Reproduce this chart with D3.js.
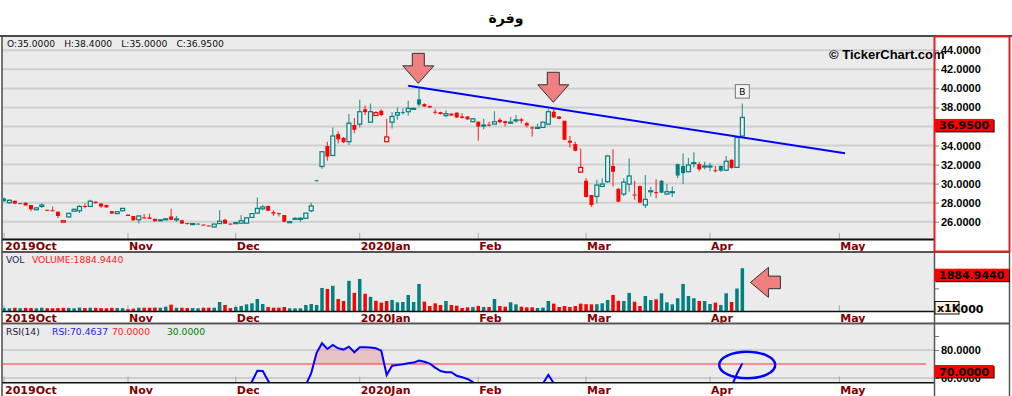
<!DOCTYPE html>
<meta charset="utf-8">
<title>وفرة</title>
<style>
    body { margin: 0; background: #fff; overflow: hidden; }
    svg { display: block; font-family: "DejaVu Sans", sans-serif; }
    .xlab { font-weight: bold; font-size: 11px; fill: #800000; }
    .ylab { font-weight: bold; font-size: 11px; fill: #000; }
    .legend { font-size: 9.2px; }
</style>
<body>
<svg width="1012" height="396"></svg>
<script src="https://d3js.org/d3.v7.min.js"></script>
<script>
// daily bars, 2019-10-01 .. 2020-04-09 (Sun-Thu sessions)
const opens = [
    28.45, 28.00, 28.20, 27.95, 28.00, 27.75, 27.25, 27.60, 27.25, 27.20,
    27.05, 25.95, 26.50, 27.10, 27.15, 27.65, 27.60, 28.10, 27.90, 27.75,
    27.10, 26.85, 27.15, 26.75, 26.60, 26.20, 26.45, 26.45, 26.30, 26.15,
    26.25, 26.55, 26.25, 26.15, 25.85, 25.75, 25.80, 25.70, 25.60, 25.45,
    25.80, 26.20, 25.80, 25.85, 25.85, 25.85, 26.45, 26.90, 27.35, 27.65,
    27.00, 26.90, 26.70, 25.95, 26.30, 26.30, 26.35, 27.15, 30.35, 31.80,
    33.95, 32.95, 35.20, 34.80, 34.40, 36.15, 36.25, 37.80, 36.45, 37.15,
    37.65, 34.40, 36.45, 37.20, 37.50, 37.55, 37.85, 38.85, 38.35, 38.15,
    37.55, 37.50, 37.15, 37.35, 37.45, 37.05, 37.05, 36.50, 36.50, 36.10,
    36.20, 36.25, 36.70, 36.55, 36.40, 36.60, 36.75, 36.35, 35.90, 35.85,
    35.90, 36.25, 37.55, 37.05, 36.60, 34.50, 34.15, 31.20, 30.30, 28.80,
    28.65, 29.70, 30.20, 31.85, 29.45, 28.90, 29.95, 28.85, 29.75, 27.75,
    29.15, 29.10, 30.30, 28.90, 29.10, 32.05, 31.85, 31.25, 32.15, 32.05,
    31.80, 31.80, 31.40, 31.85, 31.40, 32.50, 31.70, 35.00
];
const highs = [
    28.55, 28.35, 28.20, 28.00, 28.00, 27.75, 27.50, 27.95, 27.25, 27.60,
    27.05, 26.10, 26.90, 27.35, 27.75, 27.90, 28.30, 28.15, 27.95, 27.80,
    27.10, 27.05, 27.45, 26.75, 26.60, 26.65, 26.80, 26.85, 26.30, 26.20,
    26.40, 27.35, 26.60, 26.20, 25.85, 25.85, 25.85, 25.70, 25.60, 25.75,
    27.20, 26.30, 25.80, 25.90, 26.70, 26.50, 26.90, 28.55, 27.75, 27.70,
    27.20, 26.95, 26.70, 26.10, 26.50, 26.50, 26.90, 28.00, 30.40, 33.40,
    34.40, 35.90, 35.50, 34.90, 37.30, 36.90, 38.80, 38.20, 38.40, 37.60,
    37.80, 36.80, 37.50, 38.00, 37.90, 38.70, 38.00, 40.00, 38.45, 38.20,
    37.80, 37.55, 37.70, 37.40, 37.50, 37.40, 37.10, 36.90, 36.55, 36.80,
    36.50, 37.60, 36.90, 36.60, 37.00, 37.20, 36.90, 36.50, 36.00, 36.30,
    36.50, 37.80, 37.95, 37.10, 36.60, 35.00, 34.40, 33.70, 30.55, 28.80,
    30.40, 30.55, 33.00, 33.60, 29.50, 30.55, 32.65, 30.30, 29.80, 30.90,
    29.65, 30.45, 30.40, 29.95, 29.70, 32.10, 33.20, 32.70, 33.30, 32.30,
    32.30, 32.20, 31.85, 31.90, 32.90, 32.55, 34.90, 38.40
];
const lows = [
    28.10, 27.90, 27.85, 27.90, 27.70, 27.10, 27.20, 27.45, 27.15, 27.10,
    26.40, 25.95, 26.45, 27.10, 26.90, 27.40, 27.55, 27.90, 27.45, 27.50,
    26.85, 26.85, 27.10, 26.60, 26.10, 25.80, 26.30, 26.30, 26.00, 26.10,
    26.20, 26.15, 26.00, 25.80, 25.70, 25.70, 25.75, 25.60, 25.55, 25.40,
    25.75, 25.75, 25.70, 25.80, 25.80, 25.80, 26.40, 26.85, 27.20, 27.15,
    26.60, 26.55, 25.95, 25.90, 26.20, 26.00, 26.30, 27.00, 30.30, 31.55,
    32.40, 32.90, 34.20, 34.25, 34.05, 35.30, 35.90, 37.20, 36.40, 37.10,
    37.10, 34.40, 35.80, 36.70, 37.25, 37.15, 37.80, 38.10, 38.05, 37.95,
    37.25, 37.25, 36.95, 37.10, 36.90, 36.85, 36.70, 36.45, 34.50, 35.70,
    36.00, 36.20, 36.30, 36.00, 36.30, 36.40, 36.30, 35.90, 34.95, 35.80,
    35.85, 36.20, 36.90, 36.75, 34.55, 33.80, 33.40, 31.20, 28.55, 27.55,
    27.95, 29.65, 30.10, 29.70, 28.05, 28.70, 29.15, 28.30, 27.95, 27.45,
    28.65, 28.45, 29.00, 28.85, 28.60, 30.60, 29.95, 31.20, 31.70, 31.30,
    31.50, 31.30, 31.20, 31.25, 31.35, 31.55, 31.65, 35.00
];
const closes = [
    28.15, 28.25, 27.90, 27.95, 27.70, 27.30, 27.45, 27.75, 27.20, 27.15,
    26.60, 26.10, 26.88, 27.30, 27.60, 27.55, 28.15, 27.95, 27.60, 27.50,
    26.85, 27.05, 27.40, 26.60, 26.15, 26.60, 26.35, 26.30, 26.05, 26.20,
    26.30, 26.20, 26.30, 25.80, 25.75, 25.80, 25.80, 25.60, 25.55, 25.75,
    26.05, 25.80, 25.70, 25.90, 26.10, 26.40, 26.85, 27.40, 27.55, 27.15,
    26.85, 26.80, 26.00, 26.00, 26.35, 26.35, 26.90, 27.65, 30.35, 33.35,
    32.85, 35.00, 34.65, 34.35, 36.35, 35.65, 37.55, 37.50, 37.55, 37.45,
    37.20, 34.90, 37.05, 37.45, 37.50, 37.90, 37.90, 38.30, 38.10, 38.00,
    37.50, 37.30, 37.35, 37.15, 36.95, 36.90, 36.75, 36.80, 36.00, 36.15,
    36.10, 36.50, 36.45, 36.35, 36.45, 36.70, 36.60, 36.10, 35.80, 35.90,
    36.45, 37.55, 36.95, 36.80, 34.60, 34.30, 33.45, 31.70, 28.60, 27.75,
    29.85, 29.95, 32.90, 31.25, 28.10, 30.15, 30.80, 28.75, 28.00, 28.35,
    29.25, 29.00, 29.05, 29.15, 29.15, 30.85, 31.10, 31.95, 32.20, 31.50,
    31.85, 31.85, 31.30, 31.35, 32.35, 31.65, 34.85, 36.95
];
// volume in thousands
const volumes = [
    130, 120, 140, 125, 135, 130, 120, 145, 125, 120,
    130, 140, 135, 120, 150, 130, 145, 140, 125, 120,
    140, 130, 125, 80, 105, 145, 145, 145, 150, 145,
    190, 280, 145, 145, 130, 130, 120, 145, 145, 145,
    397, 265, 130, 177, 221, 294, 338, 530, 309, 177,
    147, 147, 177, 118, 118, 118, 265, 309, 265, 1015,
    971, 1110, 530, 441, 1330, 800, 1413, 758, 625, 450,
    368, 441, 486, 382, 397, 706, 397, 1192, 412, 220,
    338, 265, 441, 265, 235, 132, 162, 177, 220, 177,
    177, 530, 220, 191, 382, 294, 191, 162, 162, 132,
    147, 441, 324, 177, 220, 177, 220, 324, 300, 294,
    300, 340, 486, 706, 450, 441, 800, 410, 220, 660,
    486, 515, 780, 382, 294, 560, 1192, 660, 560, 441,
    441, 309, 368, 265, 780, 397, 990, 1884.944
];
const rsi = [
    45, 47, 42, 43, 40, 35, 38, 42, 37, 36,
    30, 28, 38, 45, 48, 47, 55, 50, 46, 44,
    38, 42, 47, 40, 35, 42, 38, 37, 34, 36,
    38, 36, 38, 33, 32, 33, 33, 31, 30, 36,
    42, 37, 35, 38, 42, 48, 57.5, 65.2, 65, 58,
    52, 51, 43, 43, 47, 47, 55, 63.5, 78, 84.8,
    80.7, 83.6, 81.2, 80.3, 82.4, 78.4, 81.9, 81.9, 81.8, 81.2,
    79.5, 62.1, 68.8, 69.3, 69.8, 70.5, 71, 72.4, 71.6, 70.3,
    67.4, 65, 64.1, 64.1, 61.6, 60.5, 59.3, 57.1, 52, 53,
    52.5, 54.5, 54, 53, 54, 55.5, 54.5, 52, 50, 51,
    56, 62.3, 56.3, 55, 43, 41, 38, 33, 27, 25,
    34, 35, 45, 42, 35, 40, 43, 37, 35, 37,
    40, 39, 39.5, 40, 40, 46, 47, 49, 50, 49,
    50, 50, 48.5, 51, 56, 54, 63, 70.4637
];
const monthLabels = ["2019Oct", "Nov", "Dec", "2020Jan", "Feb", "Mar", "Apr", "May"];
const monthBars = [0, 23, 43, 66, 88, 108, 131, 155];
const priceTicks = [26, 28, 30, 32, 34, 36, 38, 40, 42, 44];
const rsiGrid = [60, 80];
const rsiLevels = [70, 30];
// hand drawn annotations: [bar index, value]
const trendline = [[75, 40.28], [156.05, 33.18]];
const downArrows = [[76.87, 40.53], [101.92, 38.54]];
const volArrow = [138.5, 1260];
const rsiCircle = [137.9, 69.3];

const svg = d3.select("svg");
const plotL = 3, plotR = 934, axisR = 1009.5;
const mainP = {top: 37, bottom: 239};
const volP = {top: 253, bottom: 311};
const rsiP = {top: 325, bottom: 382.5};

const x = d3.scaleLinear().domain([0, 155]).range([4.05, 839.35]);
const yP = d3.scaleLinear().domain([26, 44]).range([221.7, 50.3]);
const yV = d3.scaleLinear().domain([0, 1000]).range([311, 288.3]);
const yR = d3.scaleLinear().domain([60, 80]).range([378, 350]);

const fmt = d3.format(".4f");
const TEAL = "#008080", RED = "#ff0000", BG = "#ebebeb", GRID = "#cfcfcf";
const idx = d3.range(closes.length);
const last = closes.length - 1;
const isUp = i => i === 0 || closes[i] >= closes[i - 1];
const col = i => isUp(i) ? TEAL : RED;

// title
svg.append("text").attr("x", 506).attr("y", 23).attr("text-anchor", "middle")
    .attr("font-weight", "bold").attr("font-size", 14).text("وفرة");

// panel backgrounds + clips
[mainP, volP, rsiP].forEach((p, k) => {
    svg.append("rect").attr("x", plotL).attr("y", p.top)
        .attr("width", plotR - plotL).attr("height", p.bottom - p.top).attr("fill", BG);
    svg.append("clipPath").attr("id", "clip" + k).append("rect")
        .attr("x", plotL).attr("y", p.top).attr("width", plotR - plotL).attr("height", p.bottom - p.top);
});

// gridlines
svg.append("g").selectAll("line").data(priceTicks).join("line")
    .attr("x1", plotL).attr("x2", plotR).attr("y1", d => yP(d)).attr("y2", d => yP(d))
    .attr("stroke", GRID).attr("stroke-width", 2);
svg.append("g").selectAll("line").data(rsiGrid).join("line")
    .attr("x1", plotL).attr("x2", plotR).attr("y1", d => yR(d)).attr("y2", d => yR(d))
    .attr("stroke", GRID).attr("stroke-width", 2);

// month ticks at the bottom of each panel
[mainP, volP, rsiP].forEach(p => {
    svg.append("g").selectAll("line").data(monthBars).join("line")
        .attr("x1", d => x(d)).attr("x2", d => x(d))
        .attr("y1", p.bottom - 6).attr("y2", p.bottom)
        .attr("stroke", "#aaa").attr("stroke-width", 1);
});

// candles
const candles = svg.append("g").attr("clip-path", "url(#clip0)");
candles.selectAll("line").data(idx).join("line")
    .attr("x1", i => x(i)).attr("x2", i => x(i))
    .attr("y1", i => yP(highs[i])).attr("y2", i => yP(lows[i]))
    .attr("stroke", col).attr("stroke-opacity", 0.75).attr("stroke-width", 1.2);
candles.selectAll("rect").data(idx).join("rect")
    .attr("x", i => x(i) - 2)
    .attr("width", 4)
    .attr("y", i => yP(Math.max(opens[i], closes[i])))
    .attr("height", i => Math.max(1, yP(Math.min(opens[i], closes[i])) - yP(Math.max(opens[i], closes[i]))))
    .attr("fill", i => closes[i] > opens[i] ? BG : col(i))
    .attr("stroke", i => closes[i] > opens[i] ? col(i) : "none")
    .attr("stroke-width", 1.2);

// trendline
svg.append("line").attr("clip-path", "url(#clip0)")
    .attr("x1", x(trendline[0][0])).attr("y1", yP(trendline[0][1]))
    .attr("x2", x(trendline[1][0])).attr("y2", yP(trendline[1][1]))
    .attr("stroke", "#0000ff").attr("stroke-width", 2);

// down arrows
downArrows.forEach(([i, v]) => {
    const tx = x(i), ty = yP(v);
    const pts = [[tx, ty], [tx - 15.5, ty - 17.5], [tx - 6, ty - 17.5], [tx - 6, ty - 30],
        [tx + 6, ty - 30], [tx + 6, ty - 17.5], [tx + 15.5, ty - 17.5]];
    svg.append("polygon").attr("points", pts.join(" "))
        .attr("fill", "#f08080").attr("stroke", "#333").attr("stroke-width", 1);
});

// "B" marker over the last bar
const bx = x(last), by = yP(highs[last]) - 5;
svg.append("rect").attr("x", bx - 7).attr("y", by - 14).attr("width", 14).attr("height", 13.5)
    .attr("fill", "#f4f4f4").attr("stroke", "#777");
svg.append("text").attr("x", bx).attr("y", by - 3.5).attr("text-anchor", "middle")
    .attr("font-size", 9).text("B");

// copyright
svg.append("text").attr("x", 829).attr("y", 59)
    .attr("font-family", "Liberation Sans, sans-serif").attr("font-weight", "bold").attr("font-size", 13)
    .text("© TickerChart.com");

// OHLC legend
const ohlc = [["O", opens[last]], ["H", highs[last]], ["L", lows[last]], ["C", closes[last]]];
let lx = 7;
ohlc.forEach(([k, v]) => {
    const t = svg.append("text").attr("class", "legend").attr("x", lx).attr("y", 47)
        .attr("fill", "#111").text(k + ":" + fmt(v));
    lx += t.node().getComputedTextLength() + 9;
});

// volume bars
svg.append("g").attr("clip-path", "url(#clip1)")
    .selectAll("rect").data(idx).join("rect")
    .attr("x", i => x(i) - 1.75).attr("width", 3.5)
    .attr("y", i => yV(volumes[i])).attr("height", i => yV(0) - yV(volumes[i]))
    .attr("fill", col);
svg.append("text").attr("class", "legend").attr("x", 6).attr("y", 263).attr("fill", "#202060").text("VOL");
svg.append("text").attr("class", "legend").attr("x", 32).attr("y", 263).attr("fill", "#ff2020")
    .text("VOLUME:" + fmt(volumes[last]));

// volume arrow
{
    const tx = x(volArrow[0]), ty = yV(volArrow[1]);
    const pts = [[tx, ty], [tx + 18, ty - 15], [tx + 18, ty - 6.3], [tx + 30, ty - 6.3],
        [tx + 30, ty + 6.3], [tx + 18, ty + 6.3], [tx + 18, ty + 15]];
    svg.append("polygon").attr("points", pts.join(" "))
        .attr("fill", "#f08080").attr("stroke", "#333").attr("stroke-width", 1);
}

// RSI
const rsiG = svg.append("g").attr("clip-path", "url(#clip2)");
svg.append("clipPath").attr("id", "clipAbove70").append("rect")
    .attr("x", plotL).attr("y", rsiP.top).attr("width", plotR - plotL).attr("height", yR(70) - rsiP.top);
rsiG.append("path").datum(rsi).attr("clip-path", "url(#clipAbove70)")
    .attr("d", d3.area().x((d, i) => x(i)).y0(yR(70)).y1(d => yR(d)))
    .attr("fill", "#e8a8a8").attr("fill-opacity", 0.6);
rsiG.append("line").attr("x1", plotL).attr("x2", 926).attr("y1", yR(70)).attr("y2", yR(70))
    .attr("stroke", "#ff3030").attr("stroke-width", 1.2);
rsiG.append("path").datum(rsi)
    .attr("d", d3.line().x((d, i) => x(i)).y(d => yR(d)))
    .attr("fill", "none").attr("stroke", "#0000ff").attr("stroke-width", 2);
svg.append("ellipse").attr("cx", x(rsiCircle[0])).attr("cy", yR(rsiCircle[1]))
    .attr("rx", 28).attr("ry", 13.3).attr("fill", "none")
    .attr("stroke", "#0000ff").attr("stroke-width", 2.5);

const rsiLeg = [["RSI(14)", "#202040", 6], ["RSI:" + fmt(rsi[last]), "#2020ff", 52],
    [fmt(rsiLevels[0]), "#ff2020", 112], [fmt(rsiLevels[1]), "#008000", 167]];
rsiLeg.forEach(([t, c, px]) => {
    svg.append("text").attr("class", "legend").attr("x", px).attr("y", 335).attr("fill", c).text(t);
});

// white label strips and x labels
[[mainP.bottom + 1, 252, 250.3], [volP.bottom + 1, 323.5, 322], [rsiP.bottom + 1, 396, 393.5]]
    .forEach(([t, b, base]) => {
        svg.append("rect").attr("x", plotL).attr("y", t).attr("width", plotR - plotL).attr("height", b - t)
            .attr("fill", "#fff");
        svg.append("g").selectAll("text").data(monthBars).join("text")
            .attr("class", "xlab").attr("x", d => x(d) + 1).attr("y", base)
            .text((d, k) => monthLabels[k]);
    });

// frame lines
const hline = (y, x1, x2, c, w) => svg.append("line").attr("x1", x1).attr("x2", x2)
    .attr("y1", y).attr("y2", y).attr("stroke", c).attr("stroke-width", w);
const vline = (xx, y1, y2, c, w) => svg.append("line").attr("x1", xx).attr("x2", xx)
    .attr("y1", y1).attr("y2", y2).attr("stroke", c).attr("stroke-width", w);
hline(36, 0, 1012, "#4a4a4a", 2);
hline(mainP.bottom + 0.5, 2, plotR, "#111", 2);
hline(252, 2, axisR, "#555", 2);
hline(volP.bottom + 0.5, 2, plotR, "#111", 1.5);
hline(323.5, 2, axisR, "#555", 2);
hline(rsiP.bottom + 0.3, 2, plotR, "#111", 1.5);
vline(2, 36, 396, "#444", 1.5);
vline(plotR + 0.5, 252, 396, "#555", 1.5);
vline(axisR, 252, 396, "#555", 1.5);
svg.append("rect").attr("x", plotR + 0.5).attr("y", 36.5).attr("width", axisR - plotR - 0.5)
    .attr("height", 215).attr("fill", "none").attr("stroke", "#e02020").attr("stroke-width", 2);

// right axes (labels hidden behind a value box are left out)
const boxY = yP(closes[last]) + 2;
const axP = svg.append("g").attr("transform", `translate(${plotR + 1},0)`)
    .call(d3.axisRight(yP).tickValues(priceTicks)
        .tickFormat(d => Math.abs(yP(d) - boxY - 6) < 10 ? "" : fmt(d))
        .tickSize(4).tickPadding(2));
axP.select(".domain").remove();
axP.selectAll("text").attr("class", "ylab").attr("font-family", null).attr("font-size", null);

svg.append("clipPath").attr("id", "clipRsiAxis").append("rect")
    .attr("x", -2).attr("y", rsiP.top).attr("width", 80).attr("height", rsiP.bottom - rsiP.top);
const axR = svg.append("g").attr("transform", `translate(${plotR + 1},0)`)
    .attr("clip-path", "url(#clipRsiAxis)")
    .call(d3.axisRight(yR).tickValues(rsiGrid.concat([90])).tickFormat(d => d === 90 ? "" : fmt(d))
        .tickSize(4).tickPadding(2));
axR.select(".domain").remove();
axR.selectAll("text").attr("class", "ylab").attr("font-family", null).attr("font-size", null);

const axV = svg.append("g").attr("transform", `translate(${plotR + 1},0)`)
    .call(d3.axisRight(yV).tickValues([1000]).tickFormat("").tickSize(4));
axV.select(".domain").remove();
[axP, axR, axV].forEach(a => a.selectAll("line").attr("stroke", "#777"));

// zero label, mostly covered by the x1K tag
svg.append("clipPath").attr("id", "clipZero").append("rect")
    .attr("x", plotR + 26).attr("y", volP.top).attr("width", 60).attr("height", 70);
svg.append("text").attr("class", "ylab").attr("clip-path", "url(#clipZero)")
    .attr("x", plotR + 7).attr("y", 313).text(fmt(0));

// value boxes
function valueBox(y, label) {
    const g = svg.append("g");
    const t = g.append("text").attr("class", "ylab").attr("fill", "#fff")
        .attr("x", plotR + 5).attr("y", y + 10).text(label);
    const w = t.node().getComputedTextLength() + 9;
    g.insert("rect", "text").attr("x", plotR + 1.5).attr("y", y + 0.5).attr("width", w).attr("height", 12.5)
        .attr("fill", "#111");
    g.insert("rect", "text").attr("x", plotR + 0.5).attr("y", y - 0.5).attr("width", w).attr("height", 12.5)
        .attr("fill", "#ff0000");
}
valueBox(boxY, fmt(closes[last]));
valueBox(yV(volumes[last]) + 1, fmt(volumes[last]));
valueBox(yR(rsiLevels[0]) + 1.5, fmt(rsiLevels[0]));

// x1K multiplier tag
svg.append("rect").attr("x", plotR + 1).attr("y", 301.5).attr("width", 24).attr("height", 12.5)
    .attr("fill", "#fff0dc").attr("stroke", "#111");
svg.append("text").attr("class", "ylab").attr("x", plotR + 3).attr("y", 311.5).text("x1K");
</script>
</body>
</html>
